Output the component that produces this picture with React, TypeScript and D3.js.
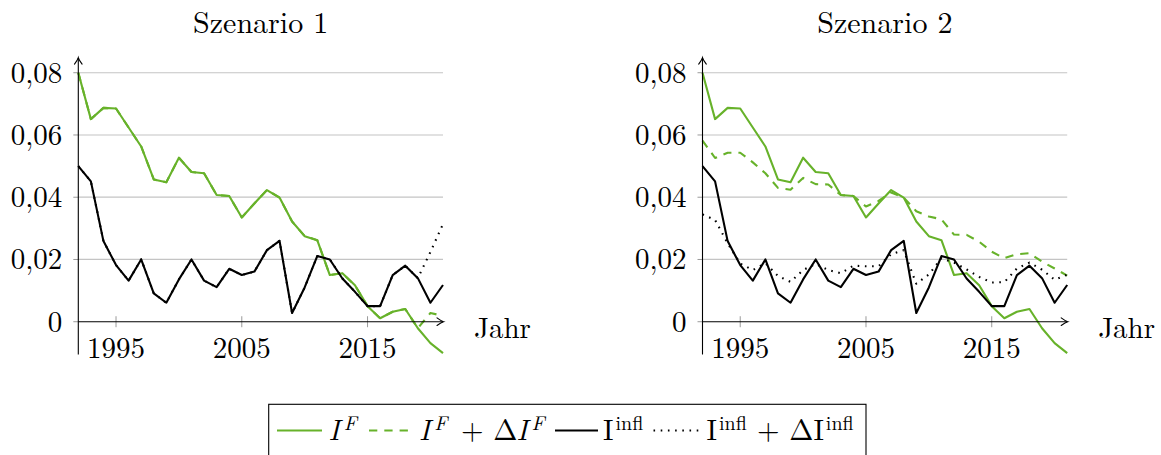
import React from "react";
import * as d3 from "d3";

// Jahre der Zeitreihe
const YEARS = [
  1992, 1993, 1994, 1995, 1996, 1997, 1998, 1999, 2000, 2001,
  2002, 2003, 2004, 2005, 2006, 2007, 2008, 2009, 2010, 2011,
  2012, 2013, 2014, 2015, 2016, 2017, 2018, 2019, 2020, 2021,
];

// I^F (in beiden Szenarien identisch)
const IF_VALUES = [
  0.08, 0.0651, 0.0687, 0.0685, 0.0624, 0.0563, 0.0457, 0.0448, 0.0527, 0.0481,
  0.0477, 0.0407, 0.0404, 0.0335, 0.038, 0.0423, 0.0399, 0.0322, 0.0275, 0.0262,
  0.015, 0.0156, 0.0117, 0.005, 0.0011, 0.0032, 0.0041, -0.0021, -0.0069, -0.0101,
];

// I^infl (in beiden Szenarien identisch)
const INFL_VALUES = [
  0.05, 0.0451, 0.0259, 0.0182, 0.0132, 0.02, 0.0091, 0.0061, 0.0136, 0.02,
  0.0132, 0.0111, 0.017, 0.015, 0.0161, 0.023, 0.026, 0.0028, 0.011, 0.0211,
  0.02, 0.0139, 0.0096, 0.005, 0.005, 0.015, 0.018, 0.014, 0.0061, 0.0118,
];

// Szenario 1: I^F + ΔI^F
const S1_IF_DELTA = [
  0.08, 0.0651, 0.0687, 0.0685, 0.0624, 0.0563, 0.0457, 0.0448, 0.0527, 0.0481,
  0.0477, 0.0407, 0.0404, 0.0335, 0.038, 0.0423, 0.0399, 0.0322, 0.0275, 0.0262,
  0.015, 0.0156, 0.0117, 0.005, 0.0011, 0.0032, 0.0041, -0.0021, 0.0028, 0.0019,
];

// Szenario 1: I^infl + ΔI^infl
const S1_INFL_DELTA = [
  0.05, 0.0451, 0.0259, 0.0182, 0.0132, 0.02, 0.0091, 0.0061, 0.0136, 0.02,
  0.0132, 0.0111, 0.017, 0.015, 0.0161, 0.023, 0.026, 0.0028, 0.011, 0.0211,
  0.02, 0.0139, 0.0096, 0.005, 0.005, 0.015, 0.018, 0.014, 0.0224, 0.0314,
];

// Szenario 2: I^F + ΔI^F
const S2_IF_DELTA = [
  0.0582, 0.0526, 0.0543, 0.0543, 0.0512, 0.0477, 0.043, 0.0424, 0.0462, 0.0442,
  0.0441, 0.0407, 0.0404, 0.037, 0.0388, 0.0415, 0.0399, 0.0355, 0.0338, 0.0329,
  0.028, 0.0279, 0.0257, 0.0225, 0.0204, 0.0217, 0.022, 0.0193, 0.0171, 0.0148,
];

// Szenario 2: I^infl + ΔI^infl
const S2_INFL_DELTA = [
  0.0345, 0.0327, 0.0252, 0.0187, 0.0166, 0.0188, 0.0147, 0.0128, 0.0166, 0.0186,
  0.0166, 0.0156, 0.018, 0.0178, 0.0178, 0.0217, 0.023, 0.0122, 0.0152, 0.0204,
  0.019, 0.0168, 0.0144, 0.0126, 0.0127, 0.0171, 0.019, 0.0167, 0.0135, 0.0151,
];

const SCENARIO_TITLES = ["Szenario 1", "Szenario 2"];
const X_TICKS = [1995, 2005, 2015];
const Y_TICKS = [0, 0.02, 0.04, 0.06, 0.08];
const X_LABEL = "Jahr";
const Y_DOMAIN = [-0.0105, 0.0847];

// Layout
const WIDTH = 1161;
const HEIGHT = 455;
const PANEL_LEFTS = [78.3, 702.5];
const PANEL_WIDTH = 364.7;
const Y_BOTTOM = 354.4;
const Y_TOP = 58.1;
const FONT = "'Latin Modern Roman', 'CMU Serif', 'Liberation Serif', serif";
const FONT_SIZE = 29;
const GREEN = "#67b22a";
const GRID = "#c4c4c4";
const TICK = "#9a9a9a";
const DASHED = "8.3 7";
const DOTTED = "1.6 5.6";

const fmtTick = (v: number) => (v === 0 ? "0" : d3.format(".2f")(v).replace(".", ","));

type Series = { values: number[]; color: string; dash?: string };

function ArrowHead({ x, y, angle }: { x: number; y: number; angle: number }) {
  return (
    <path
      d="M -6.5,-3.8 Q -2.2,-0.6 0,0 Q -2.2,0.6 -6.5,3.8"
      transform={`translate(${x},${y}) rotate(${angle})`}
      fill="none"
      stroke="#000"
      strokeWidth={1.1}
      strokeLinecap="round"
    />
  );
}

function Panel({ left, title, series }: { left: number; title: string; series: Series[] }) {
  const x = d3.scaleLinear().domain([YEARS[0], YEARS[YEARS.length - 1]]).range([left, left + PANEL_WIDTH]);
  const y = d3.scaleLinear().domain(Y_DOMAIN).range([Y_BOTTOM, Y_TOP]);
  const [x0, x1] = x.range();
  const y0 = y(0);
  const line = d3
    .line<number>()
    .x((_, i) => x(YEARS[i]))
    .y((v) => y(v));

  return (
    <g>
      <text
        x={(x0 + x1) / 2}
        y={33}
        textAnchor="middle"
        fontFamily={FONT}
        fontSize={FONT_SIZE + 1}
        fill="#000"
      >
        {title}
      </text>

      {/* Gitterlinien */}
      {Y_TICKS.filter((t) => t !== 0).map((t) => (
        <line key={t} x1={x0} x2={x1} y1={y(t)} y2={y(t)} stroke={GRID} strokeWidth={1.2} />
      ))}

      {/* Markierungen */}
      {Y_TICKS.map((t) => (
        <line key={`yt${t}`} x1={x0 - 5} x2={x0} y1={y(t)} y2={y(t)} stroke={TICK} strokeWidth={1} />
      ))}
      {X_TICKS.map((t) => (
        <line key={`xt${t}`} x1={x(t)} x2={x(t)} y1={y0 - 5.5} y2={y0 + 5.5} stroke={TICK} strokeWidth={1} />
      ))}

      {/* Datenreihen */}
      {series.map((s, i) => (
        <path
          key={i}
          d={line(s.values) ?? ""}
          fill="none"
          stroke={s.color}
          strokeWidth={2.1}
          strokeDasharray={s.dash}
          strokeLinejoin="round"
        />
      ))}

      {/* Achsen */}
      <line x1={x0} x2={x1} y1={y0} y2={y0} stroke="#000" strokeWidth={1.1} />
      <ArrowHead x={x1 + 0.5} y={y0} angle={0} />
      <line x1={x0} x2={x0} y1={Y_BOTTOM} y2={Y_TOP} stroke="#000" strokeWidth={1.1} />
      <ArrowHead x={x0} y={Y_TOP - 0.5} angle={-90} />

      {/* Beschriftungen */}
      {Y_TICKS.map((t) => (
        <text
          key={`yl${t}`}
          x={x0 - 16}
          y={y(t) + 9.8}
          textAnchor="end"
          fontFamily={FONT}
          fontSize={FONT_SIZE}
          fill="#000"
        >
          {fmtTick(t)}
        </text>
      ))}
      {X_TICKS.map((t) => (
        <text
          key={`xl${t}`}
          x={x(t)}
          y={357.5}
          textAnchor="middle"
          fontFamily={FONT}
          fontSize={FONT_SIZE}
          fill="#000"
        >
          {t}
        </text>
      ))}
      <text x={x1 + 31} y={338} fontFamily={FONT} fontSize={FONT_SIZE} fill="#000">
        {X_LABEL}
      </text>
    </g>
  );
}

function Legend() {
  const base = 440;
  const sup = 430;
  const supSize = 20;
  const lineY = 430.5;
  const common = { fontFamily: FONT, fill: "#000" };
  return (
    <g>
      <rect x={268.7} y={404.3} width={597.3} height={80} fill="#fff" stroke="#000" strokeWidth={1.1} />
      <line x1={277} x2={322} y1={lineY} y2={lineY} stroke={GREEN} strokeWidth={2.1} />
      <line x1={369} x2={409} y1={lineY} y2={lineY} stroke={GREEN} strokeWidth={2.1} strokeDasharray={DASHED} />
      <line x1={555} x2={598} y1={lineY} y2={lineY} stroke="#000" strokeWidth={2.1} />
      <line x1={653.5} x2={702} y1={lineY} y2={lineY} stroke="#000" strokeWidth={2.1} strokeDasharray={DOTTED} />

      {/* I^F */}
      <text {...common} fontSize={FONT_SIZE}>
        <tspan x={328.5} y={base} fontStyle="italic">I</tspan>
        <tspan dx={4} y={sup} fontSize={supSize} fontStyle="italic">F</tspan>
      </text>
      {/* I^F + ΔI^F */}
      <text {...common} fontSize={FONT_SIZE}>
        <tspan x={419} y={base} fontStyle="italic">I</tspan>
        <tspan dx={4} y={sup} fontSize={supSize} fontStyle="italic">F</tspan>
        <tspan x={461} y={base}>+ Δ</tspan>
        <tspan dx={-1} y={base} fontStyle="italic">I</tspan>
        <tspan dx={4} y={sup} fontSize={supSize} fontStyle="italic">F</tspan>
      </text>
      {/* I^infl */}
      <text {...common} fontSize={FONT_SIZE}>
        <tspan x={603} y={base}>I</tspan>
        <tspan dx={2} y={sup} fontSize={supSize}>infl</tspan>
      </text>
      {/* I^infl + ΔI^infl */}
      <text {...common} fontSize={FONT_SIZE}>
        <tspan x={706.5} y={base}>I</tspan>
        <tspan dx={2} y={sup} fontSize={supSize}>infl</tspan>
        <tspan x={757} y={base}>+ ΔI</tspan>
        <tspan dx={2} y={sup} fontSize={supSize}>infl</tspan>
      </text>
    </g>
  );
}

export default function App() {
  const scenarios: Series[][] = [
    [
      { values: IF_VALUES, color: GREEN },
      { values: S1_IF_DELTA, color: GREEN, dash: DASHED },
      { values: INFL_VALUES, color: "#000" },
      { values: S1_INFL_DELTA, color: "#000", dash: DOTTED },
    ],
    [
      { values: IF_VALUES, color: GREEN },
      { values: S2_IF_DELTA, color: GREEN, dash: DASHED },
      { values: INFL_VALUES, color: "#000" },
      { values: S2_INFL_DELTA, color: "#000", dash: DOTTED },
    ],
  ];
  return (
    <svg
      width={WIDTH}
      height={HEIGHT}
      style={{ position: "absolute", left: 0, top: 0, background: "#fff" }}
    >
      <rect width={WIDTH} height={HEIGHT} fill="#fff" />
      {scenarios.map((s, i) => (
        <Panel key={i} left={PANEL_LEFTS[i]} title={SCENARIO_TITLES[i]} series={s} />
      ))}
      <Legend />
    </svg>
  );
}
